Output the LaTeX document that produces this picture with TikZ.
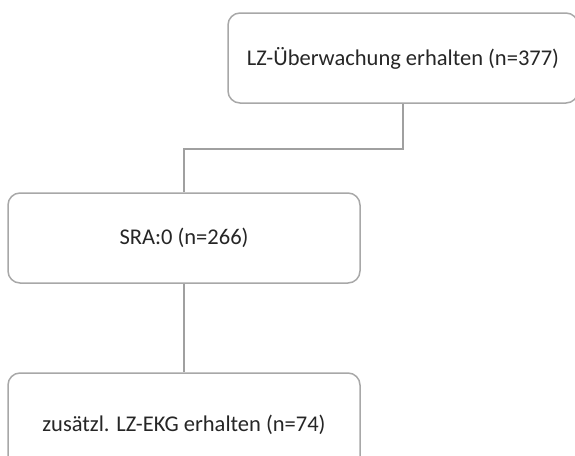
\documentclass[tikz,border=0pt]{standalone}
\usepackage{fontspec}
\setmainfont{Carlito}
\begin{document}
\begin{tikzpicture}[x=1pt,y=-1pt,
  box/.style={draw=boxgray, line width=1.5pt, rounded corners=12pt, fill=white,
    inner sep=0pt, font=\fontsize{22.5}{26}\selectfont, text=black!85},
  link/.style={draw=linegray, line width=1.6pt}]
\definecolor{boxgray}{HTML}{A8A8A8}
\definecolor{linegray}{HTML}{A0A0A0}
\useasboundingbox (0,0) rectangle (575,455);
\clip (0,0) rectangle (575,455);
% boxes
\node[box, minimum width=350pt, minimum height=90pt] (top) at (403,58)
  {LZ-Überwachung erhalten (n=377)};
\node[box, minimum width=352pt, minimum height=90pt] (mid) at (184,238)
  {SRA:0 (n=266)};
\node[box, minimum width=352pt, minimum height=104pt] (bot) at (184,425)
  {zusätzl. LZ-EKG erhalten (n=74)};
% connectors
\draw[link] (top.south) -- ++(0,45) -| (mid.north);
\draw[link] (mid.south) -- (bot.north);
\end{tikzpicture}
\end{document}
